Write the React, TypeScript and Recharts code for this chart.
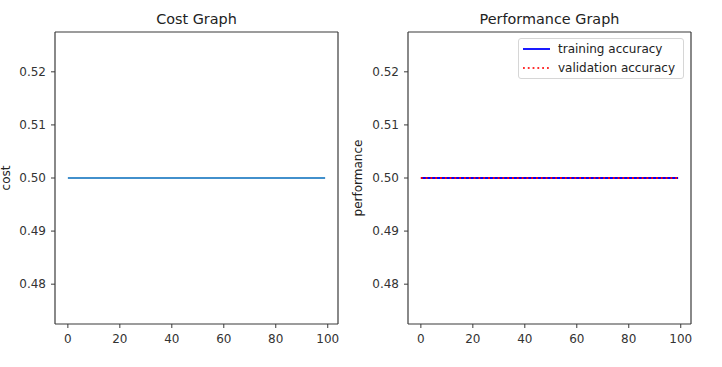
import React from 'react';
import { LineChart, Line, XAxis, YAxis, Label } from 'recharts';

const epochs: number[] = Array.from({ length: 100 }, (_, i) => i);
const costValues: number[] = epochs.map(() => 0.5);
const trainAcc: number[] = epochs.map(() => 0.5);
const valAcc: number[] = epochs.map(() => 0.5);
const xTicks = [0, 20, 40, 60, 80, 100];
const yTicks = [0.48, 0.49, 0.5, 0.51, 0.52];
const xDomain: [number, number] = [-4.95, 103.95];
const yDomain: [number, number] = [0.4725, 0.5275];

const costData = epochs.map((e, i) => ({ epoch: e, cost: costValues[i] }));
const perfData = epochs.map((e, i) => ({ epoch: e, train: trainAcc[i], val: valAcc[i] }));

const FONT = 'DejaVu Sans, sans-serif';
const AX = '#3a3a3a';
const tickStyle = { fontSize: 12, fill: '#333', fontFamily: FONT };

const H = 367;

function axes(title: string, ylabel: string, yAxisWidth: number, ylabelX: number) {
  return [
    <XAxis
      key="xb"
      xAxisId="b"
      dataKey="epoch"
      type="number"
      domain={xDomain}
      ticks={xTicks}
      allowDataOverflow
      height={30}
      tickSize={4}
      tickMargin={6}
      tick={tickStyle}
      axisLine={{ stroke: AX, strokeWidth: 1.2 }}
      tickLine={{ stroke: AX }}
      interval={0}
    />,
    <XAxis
      key="xt"
      xAxisId="t"
      orientation="top"
      dataKey="epoch"
      type="number"
      domain={xDomain}
      allowDataOverflow
      height={32}
      tick={false}
      tickLine={false}
      axisLine={{ stroke: AX, strokeWidth: 1.2 }}
    >
      <Label
        content={(props: any) => {
          const vb = props.viewBox || {};
          return (
            <text
              x={vb.x + vb.width / 2}
              y={24}
              textAnchor="middle"
              fontSize={14.4}
              fontFamily={FONT}
              fill="#222"
            >
              {title}
            </text>
          );
        }}
      />
    </XAxis>,
    <YAxis
      key="yl"
      yAxisId="l"
      type="number"
      domain={yDomain}
      ticks={yTicks}
      allowDataOverflow
      width={yAxisWidth}
      tickSize={4}
      tickMargin={5}
      tick={tickStyle}
      tickFormatter={(v: number) => v.toFixed(2)}
      axisLine={{ stroke: AX, strokeWidth: 1.2 }}
      tickLine={{ stroke: AX }}
      interval={0}
    >
      <Label
        content={(props: any) => {
          const vb = props.viewBox || {};
          const cy = vb.y + vb.height / 2;
          return (
            <text
              x={ylabelX}
              y={cy}
              transform={`rotate(-90, ${ylabelX}, ${cy})`}
              textAnchor="middle"
              dominantBaseline="central"
              fontSize={12}
              fontFamily={FONT}
              fill="#222"
            >
              {ylabel}
            </text>
          );
        }}
      />
    </YAxis>,
    <YAxis
      key="yr"
      yAxisId="r"
      orientation="right"
      type="number"
      domain={yDomain}
      allowDataOverflow
      width={1}
      tick={false}
      tickLine={false}
      axisLine={{ stroke: AX, strokeWidth: 1.2 }}
    />,
  ];
}

function LegendBox() {
  const row: React.CSSProperties = { position: 'absolute', left: 0, display: 'flex', alignItems: 'center', height: 18 };
  return (
    <div
      style={{
        position: 'absolute',
        left: 518,
        top: 38,
        width: 166,
        height: 41,
        border: '1px solid #d6d6d6',
        borderRadius: 3,
        background: 'rgba(255,255,255,0.8)',
        fontFamily: FONT,
        fontSize: 12,
        color: '#222',
        boxSizing: 'border-box',
      }}
    >
      <div style={{ ...row, top: 1 }}>
        <svg width={30} height={10} style={{ marginLeft: 3, marginRight: 6 }}>
          <line x1={1} y1={5} x2={28} y2={5} stroke="#0000ff" strokeWidth={1.8} />
        </svg>
        <span>training accuracy</span>
      </div>
      <div style={{ ...row, top: 20 }}>
        <svg width={30} height={10} style={{ marginLeft: 3, marginRight: 6 }}>
          <line x1={1} y1={5} x2={28} y2={5} stroke="#ff3030" strokeWidth={1.8} strokeDasharray="1.8 3" />
        </svg>
        <span>validation accuracy</span>
      </div>
    </div>
  );
}

export default function App() {
  return (
    <div style={{ position: 'absolute', left: 0, top: 0, width: 722, height: 367, background: '#fff' }}>
      <div style={{ position: 'absolute', left: 0, top: 0 }}>
        <LineChart width={353} height={H} data={costData} margin={{ top: 0, right: 14, bottom: 13, left: 0 }}>
          {axes('Cost Graph', 'cost', 55, 6)}
          <Line
            xAxisId="b"
            yAxisId="l"
            dataKey="cost"
            stroke="#4290cc"
            strokeWidth={2}
            dot={false}
            activeDot={false}
            isAnimationActive={false}
          />
        </LineChart>
      </div>
      <div style={{ position: 'absolute', left: 343, top: 0 }}>
        <LineChart width={371} height={H} data={perfData} margin={{ top: 0, right: 22, bottom: 13, left: 0 }}>
          {axes('Performance Graph', 'performance', 65, 15)}
          <Line
            xAxisId="b"
            yAxisId="l"
            dataKey="train"
            stroke="#0000ff"
            strokeWidth={1.8}
            dot={false}
            activeDot={false}
            isAnimationActive={false}
          />
          <Line
            xAxisId="b"
            yAxisId="l"
            dataKey="val"
            stroke="#ff0000"
            strokeWidth={1.8}
            strokeDasharray="1.8 3"
            dot={false}
            activeDot={false}
            isAnimationActive={false}
          />
        </LineChart>
      </div>
      <LegendBox />
    </div>
  );
}
